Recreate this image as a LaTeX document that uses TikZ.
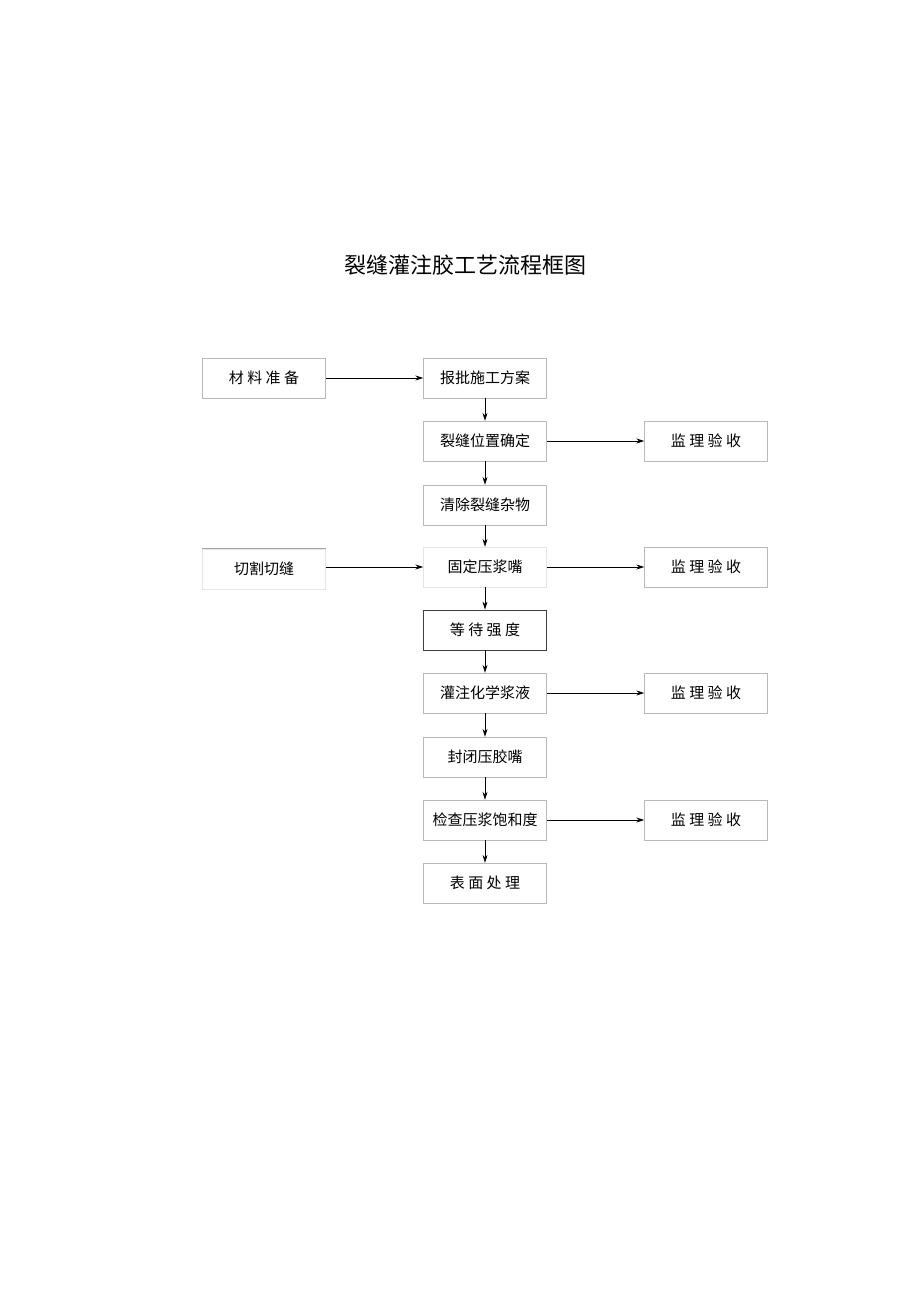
\documentclass[tikz,border=0pt]{standalone}
\usepackage{fontspec}
\newfontfamily\cjk{Noto Sans CJK SC}
\usetikzlibrary{arrows.meta}
\tikzset{bx/.style = {draw=gray!55, minimum width=123pt, minimum height=40pt, inner sep=0pt, font=\cjk\fontsize{15}{15}\selectfont},
         fb/.style = {bx, draw=gray!20},
         ar/.style = {-{Stealth[length=8pt,width=5pt]}, thick}}
\begin{document}
\begin{tikzpicture}[x=1pt, y=-1pt]
    \useasboundingbox (0,0) rectangle (920,1301);
    \node[font=\cjk\fontsize{22}{22}\selectfont] (title) at (465,265) {裂缝灌注胶工艺流程框图};
    \node[bx] (cl) at (264,378) {材\ 料\ 准\ 备};
    \node[bx] (bp) at (485,378) {报批施工方案};
    \node[bx] (lf) at (485,441) {裂缝位置确定};
    \node[bx] (j1) at (706,441) {监\ 理\ 验\ 收};
    \node[bx] (qc) at (485,505) {清除裂缝杂物};
    \node[fb] (qg) at (264,569) {切割切缝};
    \node[fb] (gd) at (485,567) {固定压浆嘴};
    \node[bx] (j2) at (706,567) {监\ 理\ 验\ 收};
    \node[bx, draw=black!75, thick] (dd) at (485,630) {等\ 待\ 强\ 度};
    \node[bx] (gz) at (485,693) {灌注化学浆液};
    \node[bx] (j3) at (706,693) {监\ 理\ 验\ 收};
    \node[bx] (fb) at (485,757) {封闭压胶嘴};
    \node[bx] (jc) at (485,820) {检查压浆饱和度};
    \node[bx] (j4) at (706,820) {监\ 理\ 验\ 收};
    \node[bx] (bm) at (485,883) {表\ 面\ 处\ 理};
    \draw[gray!70, very thick] (qg.north west) -- (qg.north east);
    \draw[ar] (cl) -- (bp);
    \draw[ar] (bp) -- (lf);
    \draw[ar] (lf) -- (j1);
    \draw[ar] (lf) -- (qc);
    \draw[ar] (qc) -- (gd);
    \draw[ar] (qg.east |- gd) -- (gd);
    \draw[ar] (gd) -- (j2);
    \draw[ar] (gd) -- (dd);
    \draw[ar] (dd) -- (gz);
    \draw[ar] (gz) -- (j3);
    \draw[ar] (gz) -- (fb);
    \draw[ar] (fb) -- (jc);
    \draw[ar] (jc) -- (j4);
    \draw[ar] (jc) -- (bm);
\end{tikzpicture}
\end{document}
